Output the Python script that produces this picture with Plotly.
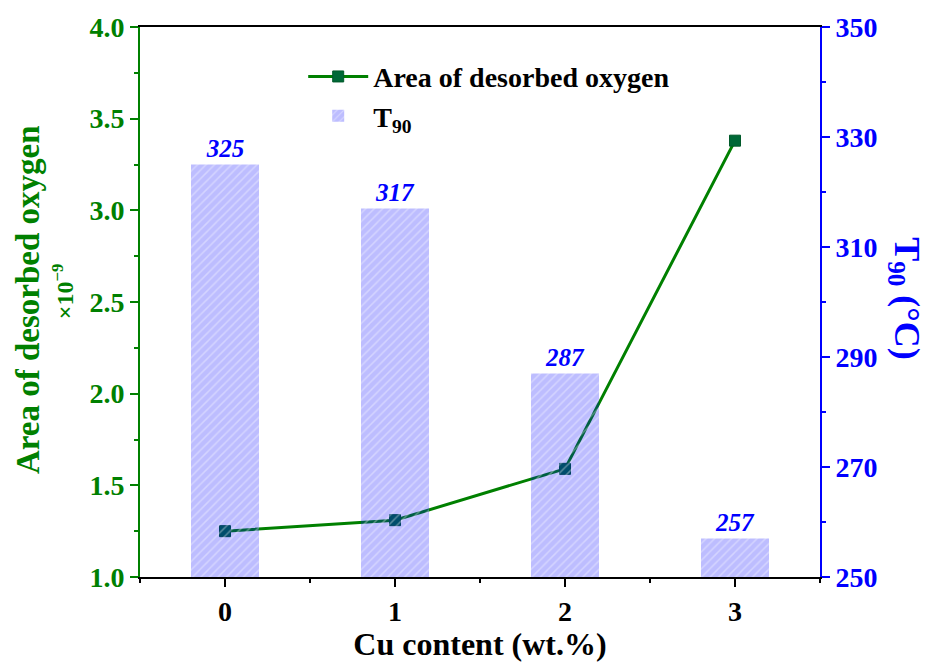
import plotly.graph_objects as go

# Cu loading of the catalysts (wt.%)
cu_content = [0, 1, 2, 3]
# Integrated O2-TPD desorption area (units of 1e-9)
desorbed_area = [1.25, 1.31, 1.59, 3.38]
# Temperature of 90 % conversion (°C)
t90 = [325, 317, 287, 257]

SERIF = "Times New Roman, Liberation Serif, serif"
GREEN = "#008000"
BLUE = "#0000FF"

fig = go.Figure()

fig.add_trace(go.Scatter(
    x=cu_content, y=desorbed_area, name="Area of desorbed oxygen",
    mode="lines+markers",
    line=dict(color=GREEN, width=3),
    marker=dict(symbol="square", size=11, color="#006837",
                line=dict(color="#005a2a", width=1)),
    yaxis="y",
))

fig.add_trace(go.Bar(
    x=cu_content, y=t90, name="T<sub>90</sub>", yaxis="y2",
    width=0.4,
    marker=dict(color="rgba(0,0,255,0.26)", line=dict(width=0),
                pattern=dict(shape="/", fgcolor="white", fgopacity=0.35,
                             size=6, solidity=0.25)),
    text=[str(v) for v in t90], textposition="outside",
    textfont=dict(family=SERIF, size=25, color=BLUE, weight="bold", style="italic"),
    cliponaxis=False,
))

tick_font = dict(family=SERIF, size=28, weight="bold")

fig.update_layout(
    width=933, height=662,
    margin=dict(l=140, r=113, t=27, b=85),
    paper_bgcolor="white", plot_bgcolor="white",
    font=dict(family=SERIF, weight="bold"),
    showlegend=True,
    legend=dict(x=0.24, y=0.955, xanchor="left", yanchor="top",
                bgcolor="rgba(0,0,0,0)", traceorder="normal",
                font=dict(family=SERIF, size=28, color="black", weight="bold"),
                itemwidth=60, tracegroupgap=0),
    xaxis=dict(
        range=[-0.5, 3.5], tickvals=cu_content, ticktext=[str(v) for v in cu_content],
        showline=True, linecolor="black", linewidth=2, mirror=True,
        ticks="outside", ticklen=8, tickwidth=2, tickcolor="black",
        minor=dict(dtick=0.5, tick0=-0.5, ticks="outside", ticklen=4,
                   tickwidth=2, tickcolor="black"),
        tickfont=dict(color="black", **tick_font),
        showgrid=False, zeroline=False,
        title=dict(text="Cu content (wt.%)", standoff=0,
                   font=dict(family=SERIF, size=32, color="black", weight="bold")),
    ),
    yaxis=dict(
        range=[1.0, 4.0], dtick=0.5, tick0=1.0, tickformat=".1f",
        showline=True, linecolor=GREEN, linewidth=2,
        ticks="outside", ticklen=8, tickwidth=2, tickcolor=GREEN,
        minor=dict(dtick=0.25, tick0=1.0, ticks="outside", ticklen=4,
                   tickwidth=2, tickcolor=GREEN),
        tickfont=dict(color=GREEN, **tick_font),
        showgrid=False, zeroline=False,
    ),
    yaxis2=dict(
        range=[250, 350], dtick=20, tick0=250, overlaying="y", side="right",
        showline=True, linecolor=BLUE, linewidth=2,
        ticks="outside", ticklen=8, tickwidth=2, tickcolor=BLUE,
        minor=dict(dtick=10, tick0=250, ticks="outside", ticklen=4,
                   tickwidth=2, tickcolor=BLUE),
        tickfont=dict(color=BLUE, **tick_font),
        showgrid=False, zeroline=False,
    ),
)

# Left axis title with its multiplier
fig.add_annotation(text="Area of desorbed oxygen", xref="paper", yref="paper",
                   x=-0.165, y=0.505, xanchor="center", yanchor="middle",
                   textangle=-90, showarrow=False,
                   font=dict(family=SERIF, size=33, color=GREEN, weight="bold"))
fig.add_annotation(text="×10<sup>−9</sup>", xref="paper", yref="paper",
                   x=-0.113, y=0.52, xanchor="center", yanchor="middle",
                   textangle=-90, showarrow=False,
                   font=dict(family=SERIF, size=24, color=GREEN, weight="bold"))
# Right axis title reading downward
fig.add_annotation(text="T<sub>90</sub> (°C)", xref="paper", yref="paper",
                   x=1.125, y=0.507, xanchor="center", yanchor="middle",
                   textangle=90, showarrow=False,
                   font=dict(family=SERIF, size=36, color=BLUE, weight="bold"))

fig.write_html("out.html")
